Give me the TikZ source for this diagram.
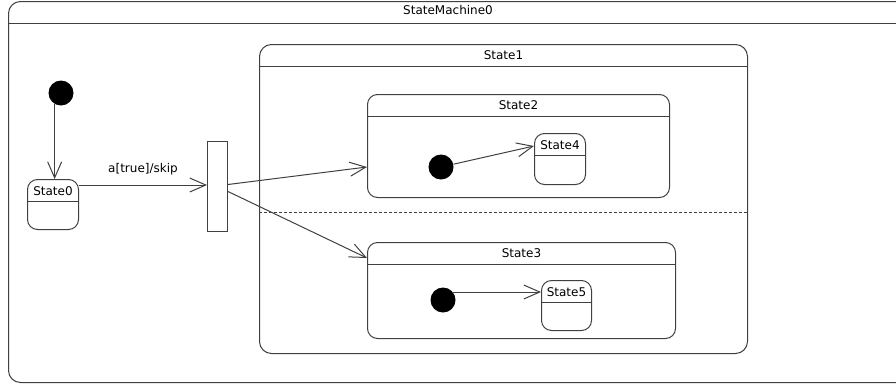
\documentclass[tikz,border=0pt]{standalone}
\usepackage{fontspec}
\setmainfont{DejaVu Sans}
\usetikzlibrary{arrows.meta}
\tikzset{
  ln/.style={draw=black!75, line width=1pt},
  st/.style={ln, rounded corners=#1, anchor=north west, inner sep=0pt},
  st/.default=10pt,
  init/.style={circle, fill=black, minimum size=25pt, inner sep=0pt},
  tr/.style={ln, -{Straight Barb[length=16pt,width=14pt,line width=1pt]}}
}
\begin{document}
\begin{tikzpicture}[x=1pt,y=-1pt,font=\fontsize{12}{14}\selectfont]
\useasboundingbox (0,0) rectangle (896,386);
% boxes
\node[st=12pt, minimum width=900pt, minimum height=381pt] (sm) at (8,1) {};
\node[st=12pt, minimum width=488pt, minimum height=309pt] (s1) at (259,44) {};
\node[st, minimum width=302pt, minimum height=103pt] (s2) at (367,94) {};
\node[st, minimum width=308pt, minimum height=96pt] (s3) at (367,242) {};
\node[st, minimum width=51pt, minimum height=50pt] (s0) at (27,179) {};
\node[st, minimum width=51pt, minimum height=51pt] (s4) at (534,133) {};
\node[st, minimum width=50pt, minimum height=50pt] (s5) at (541,280) {};
\node[ln, anchor=north west, minimum width=20pt, minimum height=90pt, inner sep=0pt] (fork) at (207,141) {};
\foreach \n in {sm,s1,s2,s3,s0,s4,s5}
  \draw[ln] ([yshift=-22.5pt]\n.north west) -- ([yshift=-22.5pt]\n.north east);
\node (smt) at (448,10) {StateMachine0};
\node (s1t) at ([yshift=-11.5pt]s1.north) {State1};
\node (s2t) at ([yshift=-11pt]s2.north) {State2};
\node (s3t) at ([yshift=-11.5pt]s3.north) {State3};
\node (s0t) at ([yshift=-12pt]s0.north) {State0};
\node (s4t) at ([yshift=-12.5pt]s4.north) {State4};
\node (s5t) at ([yshift=-12.5pt]s5.north) {State5};
\draw[ln, line width=.7pt, dash pattern=on 3pt off 2pt] (s1.west |- 0,212) -- (s1.east |- 0,212);
% initial states
\node[init] (i0) at (61,93) {};
\node[init] (i2) at (441,167) {};
\node[init] (i3) at (443,300) {};
\coordinate (s4in) at ([yshift=-13pt]s4.north west);
\coordinate (s5in) at ([yshift=-12pt]s5.north west);
% transitions
\draw[tr] (i0.240) -- (i0.240 |- s0.north);
\draw[tr] ([yshift=-6pt]s0.north east) -- ([yshift=-6pt]s0.north east -| fork.west)
  node[midway, above=6pt] {a[true]/skip};
\draw[tr] ([yshift=2pt]fork.east) -- ([yshift=-21pt]s2.west);
\draw[tr] ([yshift=-5pt]fork.east) -- ([yshift=-16pt]s3.north west);
\draw[tr] (i2) -- (s4in);
\draw[tr] (i3.north east |- s5in) -- (s5in);
\end{tikzpicture}
\end{document}
